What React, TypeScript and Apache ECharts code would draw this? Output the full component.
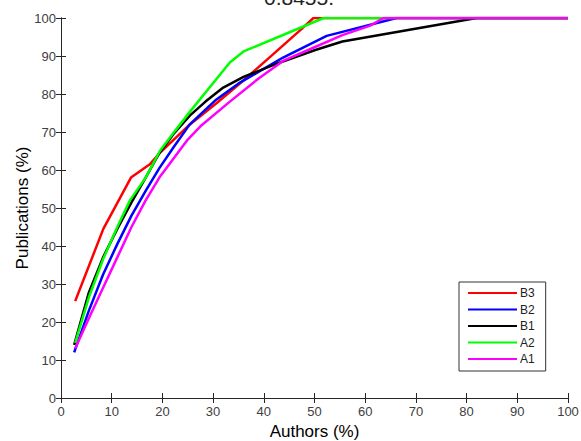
import React, { useEffect, useRef } from "react";
import * as echarts from "echarts";

const seriesNames = ["B3", "B2", "B1", "A2", "A1"];
const seriesColors = ["#ff0000", "#0000ff", "#000000", "#00ff00", "#ff00ff"];

const b3X = [2.8, 8.35, 13.8, 17.6, 19.5, 25, 30.6, 36.1, 41.7, 47.2, 49.8, 100];
const b3Y = [25.5, 44.5, 58, 61.6, 64.5, 71.5, 77.5, 83.7, 90.3, 96.8, 100, 100];

const b2X = [2.6, 5.5, 8.3, 11.1, 13.9, 16.7, 19.4, 22.2, 25.4, 30.6, 35.3, 43.8, 52.4, 66.2, 100];
const b2Y = [12, 23, 32.5, 40.5, 48, 54.5, 60.5, 66, 72, 78.5, 83, 89.6, 95.3, 100, 100];

const b1X = [2.6, 5.5, 8.3, 11.1, 13.9, 16.7, 19.4, 22.2, 25.4, 28.5, 32, 36, 43.2, 50, 55.5, 82, 100];
const b1Y = [14, 27.8, 37, 44.5, 51.5, 58, 64.5, 69.5, 74.3, 78, 81.7, 84.5, 88.3, 91.5, 93.8, 100, 100];

const a2X = [2.8, 5.5, 8.3, 11.1, 13.6, 16.7, 19.5, 22.5, 25.4, 33.3, 36, 51.8, 100];
const a2Y = [14.5, 26.5, 36.5, 45, 52, 58, 65, 70.3, 75.3, 88.3, 91.2, 100, 100];

const a1X = [2.8, 5.5, 8.3, 11.1, 13.9, 16.7, 19.4, 22.2, 25, 27.5, 33.3, 38.9, 43.8, 50, 55.5, 61, 63.6, 100];
const a1Y = [13, 21, 29, 37, 45, 52, 58, 63, 68, 71.5, 78, 84, 88.7, 92.3, 95.5, 98, 100, 100];

const xTicks = [0, 10, 20, 30, 40, 50, 60, 70, 80, 90, 100];

const allX = [b3X, b2X, b1X, a2X, a1X];
const allY = [b3Y, b2Y, b1Y, a2Y, a1Y];

const FONT = "Liberation Sans, Arial, Helvetica, sans-serif";

export default function App() {
  const ref = useRef<HTMLDivElement>(null);
  useEffect(() => {
    document.body.style.margin = "0";
    if (!ref.current) return;
    const chart = echarts.init(ref.current, null, { renderer: "svg" });
    const axisLine = { show: true, lineStyle: { color: "#262626", width: 1 } };
    const axisTick = { show: true, inside: true, length: 5, lineStyle: { color: "#262626" } };
    const labelStyle = { color: "#404040", fontSize: 13, fontFamily: FONT };
    const series = seriesNames.map((name, i) => ({
      name,
      type: "line",
      data: allX[i].map((x, j) => [x, allY[i][j]]),
      symbol: "none",
      lineStyle: { color: seriesColors[i], width: 2.5 },
      itemStyle: { color: seriesColors[i] },
      xAxisIndex: 0,
      yAxisIndex: 0,
      z: 2 + i,
    }));
    chart.setOption({
      animation: false,
      backgroundColor: "#ffffff",
      grid: { left: 61, right: 13, top: 18, bottom: 43, containLabel: false, outerBoundsMode: "none" },
      xAxis: [
        {
          type: "value",
          min: 0,
          max: 100,
          interval: 10,
          axisLine,
          axisTick,
          splitLine: { show: false },
          axisLabel: { ...labelStyle, margin: 7, formatter: (v: number) => (xTicks.includes(v) ? String(v) : "") },
          name: "Authors (%)",
          nameLocation: "middle",
          nameGap: 25,
          nameMoveOverlap: false,
          nameTextStyle: { color: "#000", fontSize: 17, fontFamily: FONT },
        },
        {
          type: "value",
          position: "top",
          min: 0,
          max: 100,
          interval: 10,
          axisLine,
          axisTick,
          axisLabel: { show: false },
          splitLine: { show: false },
        },
      ],
      yAxis: [
        {
          type: "value",
          min: 0,
          max: 100,
          interval: 10,
          axisLine,
          axisTick,
          splitLine: { show: false },
          axisLabel: { ...labelStyle, margin: 5 },
          name: "Publications (%)",
          nameLocation: "middle",
          nameGap: 30,
          nameMoveOverlap: false,
          nameTextStyle: { color: "#000", fontSize: 17, fontFamily: FONT },
        },
        {
          type: "value",
          position: "right",
          min: 0,
          max: 100,
          interval: 10,
          axisLine,
          axisTick,
          axisLabel: { show: false },
          splitLine: { show: false },
        },
      ],
      legend: {
        orient: "vertical",
        left: 459,
        top: 282,
        data: seriesNames,
        itemWidth: 49,
        itemHeight: 14,
        itemGap: 4.5,
        padding: [5, 11, 6, 8],
        borderColor: "#333",
        borderWidth: 1,
        backgroundColor: "#fff",
        itemStyle: { opacity: 0 },
        textStyle: { color: "#222", fontSize: 12, fontFamily: FONT, padding: [0, 0, 0, -2] },
      },
      graphic: [
        {
          type: "text",
          x: 299,
          y: 8,
          style: {
            text: "0.8455.",
            textAlign: "center",
            textVerticalAlign: "bottom",
            fontSize: 21,
            fontFamily: FONT,
            fill: "#222",
          },
        },
      ],
      series,
    });
    return () => chart.dispose();
  }, []);
  return (
    <div
      ref={ref}
      style={{ position: "fixed", left: 0, top: 0, width: 581, height: 441, background: "#fff" }}
    />
  );
}
